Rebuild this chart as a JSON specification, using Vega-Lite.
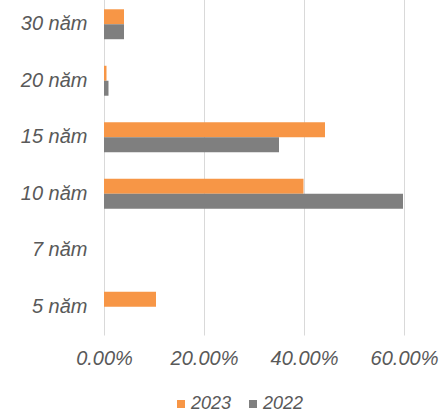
{
  "$schema": "https://vega.github.io/schema/vega-lite/v6.json",
  "width": 300,
  "height": 339,
  "autosize": {"type": "none"},
  "padding": {"left": 104, "top": -4, "right": 40, "bottom": 79},
  "background": "white",
  "config": {"view": {"stroke": null}},
  "data": {
    "values": [
      {"term": "30 năm", "year": "2023", "value": 0.040},
      {"term": "30 năm", "year": "2022", "value": 0.040},
      {"term": "20 năm", "year": "2023", "value": 0.005},
      {"term": "20 năm", "year": "2022", "value": 0.009},
      {"term": "15 năm", "year": "2023", "value": 0.442},
      {"term": "15 năm", "year": "2022", "value": 0.350},
      {"term": "10 năm", "year": "2023", "value": 0.399},
      {"term": "10 năm", "year": "2022", "value": 0.598},
      {"term": "5 năm", "year": "2023", "value": 0.104}
    ]
  },
  "mark": {"type": "bar"},
  "encoding": {
    "y": {
      "field": "term",
      "type": "nominal",
      "scale": {"domain": ["30 năm", "20 năm", "15 năm", "10 năm", "7 năm", "5 năm"], "paddingInner": 0.47, "paddingOuter": 0.235},
      "axis": {
        "title": null,
        "domain": false,
        "ticks": false,
        "labelFont": "Liberation Sans",
        "labelFontStyle": "italic",
        "labelFontSize": 20,
        "labelColor": "#595959",
        "labelPadding": 17
      }
    },
    "yOffset": {
      "field": "year",
      "type": "nominal",
      "scale": {"domain": ["2023", "2022"], "paddingInner": 0, "paddingOuter": 0}
    },
    "x": {
      "field": "value",
      "type": "quantitative",
      "scale": {"domain": [0, 0.6], "nice": false},
      "axis": {
        "title": null,
        "values": [0, 0.2, 0.4, 0.6],
        "format": ".2%",
        "domain": false,
        "ticks": false,
        "grid": true,
        "gridColor": "#d9d9d9",
        "gridWidth": 1,
        "labelFont": "Liberation Sans",
        "labelFontStyle": "italic",
        "labelFontSize": 20,
        "labelColor": "#595959",
        "labelPadding": 13,
        "labelFlush": false
      }
    },
    "color": {
      "field": "year",
      "type": "nominal",
      "scale": {"domain": ["2023", "2022"], "range": ["#F79646", "#7F7F7F"]},
      "legend": {
        "title": null,
        "orient": "none",
        "direction": "horizontal",
        "legendX": 68,
        "legendY": 399,
        "padding": 0,
        "symbolType": "square",
        "symbolSize": 64,
        "symbolStrokeWidth": 0,
        "symbolOpacity": 1,
        "labelFont": "Liberation Sans",
        "labelFontStyle": "italic",
        "labelFontSize": 18,
        "labelColor": "#595959",
        "labelOffset": 1,
        "columnPadding": 12
      }
    }
  }
}
